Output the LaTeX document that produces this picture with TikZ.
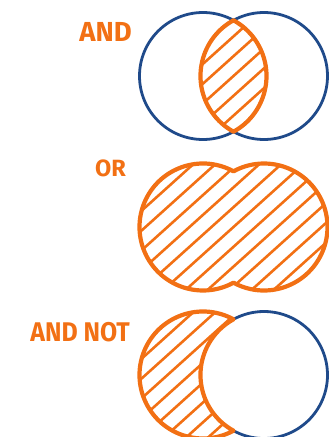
\documentclass[tikz,border=0pt]{standalone}
\usepackage{fontspec}
\setmainfont{Fira Sans}
\usepackage{tikz}
\usetikzlibrary{calc}
\definecolor{setorange}{RGB}{242,112,20}
\definecolor{setblue}{RGB}{31,74,138}
\newcommand{\hatchlines}[1]{%
  \foreach \k in {-12,...,12}
    \draw[hatch] ($(#1)+(\k*22,0)+(-140,-126)$) -- ++(280,252);}

\begin{document}
\begin{tikzpicture}[x=1pt,y=1pt,
  every node/.style={font=\bfseries,text=setorange,inner sep=0pt},
  bluering/.style={draw=setblue,line width=2.8pt},
  orangering/.style={draw=setorange,line width=4.2pt,line join=round},
  hatch/.style={draw=setorange,line width=2.6pt}]
\useasboundingbox (0,0) rectangle (329,437);
\def\r{63.5}
% centres of the three pairs
\coordinate (andc) at (233.5,361);
\coordinate (orc) at (233.5,210);
\coordinate (notc) at (233.5,62);
% labels
\node[anchor=base east,font=\fontsize{27.5}{30}\selectfont\bfseries] (andlabel) at (132,395) {AND};
\node[anchor=base east,font=\fontsize{23.5}{26}\selectfont\bfseries] (orlabel) at (126,260) {OR};
\node[anchor=base east,font=\fontsize{27}{30}\selectfont\bfseries,xscale=.92] (notlabel) at (130,95) {AND NOT};
% AND
\draw[bluering] ($(andc)+(-30.5,0)$) circle (\r);
\draw[bluering] ($(andc)+(30.5,0)$) circle (\r);
\begin{scope}
\clip ($(andc)+(-30.5,0)$) circle (\r);
\clip ($(andc)+(30.5,0)$) circle (\r);
\hatchlines{andc}
\end{scope}
\draw[orangering] ($(andc)+(-30.5,0)+(-61.3:\r)$)
  arc[start angle=-61.3,end angle=61.3,radius=\r]
  arc[start angle=118.7,end angle=241.3,radius=\r] -- cycle;
% OR
\begin{scope}
\clip ($(orc)+(-30.5,0)$) circle (\r) ($(orc)+(30.5,0)$) circle (\r);
\hatchlines{orc}
\end{scope}
\draw[orangering] ($(orc)+(-30.5,0)+(61.3:\r)$)
  arc[start angle=61.3,end angle=298.7,radius=\r]
  arc[start angle=-118.7,end angle=118.7,radius=\r] -- cycle;
% AND NOT
\draw[bluering] ($(notc)+(30.5,0)+(-118.7:\r)$)
  arc[start angle=-118.7,end angle=118.7,radius=\r];
\begin{scope}
\clip ($(notc)+(-30.5,0)+(61.3:\r)$)
  arc[start angle=61.3,end angle=298.7,radius=\r]
  arc[start angle=241.3,end angle=118.7,radius=\r] -- cycle;
\hatchlines{notc}
\end{scope}
\draw[orangering] ($(notc)+(-30.5,0)+(61.3:\r)$)
  arc[start angle=61.3,end angle=298.7,radius=\r]
  arc[start angle=241.3,end angle=118.7,radius=\r] -- cycle;
\end{tikzpicture}
\end{document}
